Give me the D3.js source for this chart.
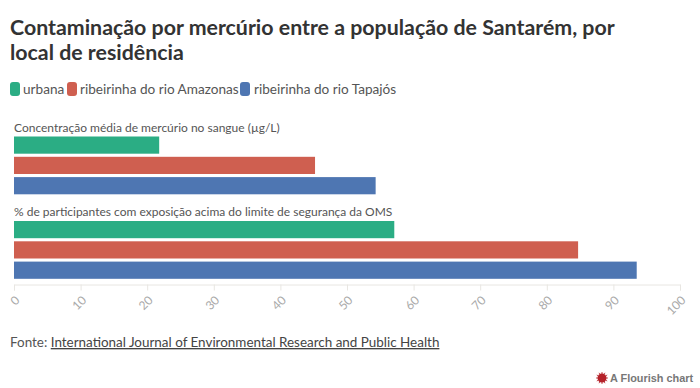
<!DOCTYPE html>
<html>
<head>
<meta charset="utf-8">
<script src="https://cdn.jsdelivr.net/npm/d3@7"></script>
<style>
  html, body { margin: 0; padding: 0; background: #fff; }
  text { font-family: Lato, "Noto Sans", sans-serif; }
</style>
</head>
<body>
<svg id="chart" width="700" height="388"></svg>
<script>
const titleLines = ["Contaminação por mercúrio entre a população de Santarém, por", "local de residência"]
const measures = ["Concentração média de mercúrio no sangue (µg/L)", "% de participantes com exposição acima do limite de segurança da OMS"]
const seriesNames = ["urbana", "ribeirinha do rio Amazonas", "ribeirinha do rio Tapajós"]
const seriesColors = ["#2bad84", "#cf5f50", "#4e76b2"]
const urbana = [21.8, 57.1]
const amazonas = [45.2, 84.7]
const tapajos = [54.3, 93.5]
const xTicks = [0, 10, 20, 30, 40, 50, 60, 70, 80, 90, 100]

const values = [urbana, amazonas, tapajos]
const svg = d3.select("#chart")

const x = d3.scaleLinear().domain([0, 100]).range([14, 680])
const groupTop = [136.5, 221]
const barStep = 20.3
const barHeight = 17.2

/* title */
svg.selectAll(".title")
  .data(titleLines)
  .enter()
  .append("text")
  .attr("class", "title")
  .attr("x", 10)
  .attr("y", (d, i) => 35 + i * 25)
  .attr("font-size", 21.35)
  .attr("font-weight", 700)
  .attr("fill", "#333")
  .text(d => d)

/* legend */
const legendX = [10, 67, 240]
const legend = svg.selectAll(".legend")
  .data(seriesNames)
  .enter()
  .append("g")
  .attr("class", "legend")
  .attr("transform", (d, i) => `translate(${legendX[i]},82)`)
legend.append("rect")
  .attr("width", 10)
  .attr("height", 14)
  .attr("rx", 3)
  .attr("fill", (d, i) => seriesColors[i])
legend.append("text")
  .attr("x", (d, i) => i === 2 ? 14 : 13)
  .attr("y", 12)
  .attr("font-size", 13.6)
  .attr("fill", "#555")
  .text(d => d)

/* measure labels and bars */
svg.selectAll(".measure")
  .data(measures)
  .enter()
  .append("text")
  .attr("class", "measure")
  .attr("x", 14)
  .attr("y", (d, i) => groupTop[i] - 5)
  .attr("font-size", 12)
  .attr("fill", "#555")
  .text(d => d)

values.forEach((vals, s) => {
  svg.selectAll(".bar-" + s)
    .data(vals)
    .enter()
    .append("rect")
    .attr("class", "bar-" + s)
    .attr("x", x(0))
    .attr("y", (d, i) => groupTop[i] + s * barStep)
    .attr("width", d => x(d) - x(0))
    .attr("height", barHeight)
    .attr("fill", seriesColors[s])
})

/* axis */
const axis = svg.append("g")
  .attr("transform", "translate(0,284.5)")
  .call(d3.axisBottom(x).tickValues(xTicks).tickSize(6))
axis.select(".domain").attr("stroke", "#e8e6e2")
axis.selectAll(".tick line").attr("stroke", "#e8e6e2")
axis.selectAll(".tick text")
  .attr("x", 0)
  .attr("y", 0)
  .attr("dy", "0.35em")
  .attr("font-size", 12)
  .attr("font-family", "Lato, sans-serif")
  .attr("fill", "#aaa")
  .attr("text-anchor", "end")
  .attr("transform", "translate(3,13.5) rotate(-45)")

/* footer */
const fonte = svg.append("text")
  .attr("x", 10)
  .attr("y", 347)
  .attr("font-size", 13.45)
  .attr("fill", "#555")
fonte.append("tspan").text("Fonte: ")
fonte.append("tspan")
  .attr("text-decoration", "underline")
  .attr("fill", "#444")
  .text("International Journal of Environmental Research and Public Health")

/* flourish credit */
const star = svg.append("g").attr("transform", "translate(602,378)")
star.append("circle").attr("r", 4.5).attr("fill", "#b5222a")
star.selectAll("line")
  .data(d3.range(12))
  .enter()
  .append("line")
  .attr("x1", d => 4 * Math.cos(d * Math.PI / 6))
  .attr("y1", d => 4 * Math.sin(d * Math.PI / 6))
  .attr("x2", d => 6 * Math.cos(d * Math.PI / 6))
  .attr("y2", d => 6 * Math.sin(d * Math.PI / 6))
  .attr("stroke", "#b5222a")
  .attr("stroke-width", 0.8)
svg.append("text")
  .attr("x", 610)
  .attr("y", 382)
  .attr("font-size", 10.9)
  .attr("font-weight", 700)
  .style("font-family", "Liberation Sans, Arial, sans-serif")
  .attr("fill", "#777")
  .text("A Flourish chart")
</script>
</body>
</html>
